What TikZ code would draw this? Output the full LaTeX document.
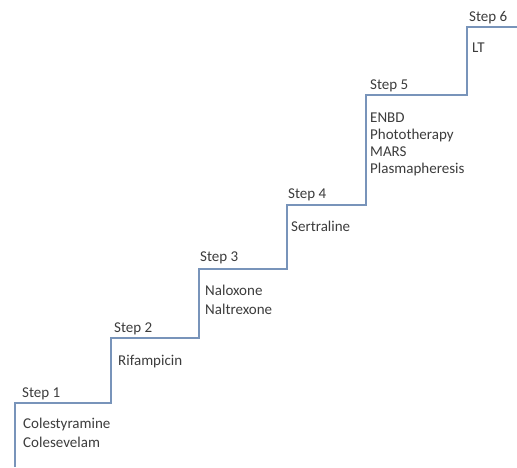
\documentclass[tikz,border=0pt]{standalone}
\usepackage{fontspec}
\setmainfont{Carlito}
\begin{document}
\begin{tikzpicture}[x=1pt,y=-1pt,
  stair/.style={draw=stairblue,line width=2pt,line join=miter},
  lbl/.style={anchor=base west,inner sep=0pt,text=txtgray,font=\fontsize{15}{18}\selectfont}]
\definecolor{stairblue}{HTML}{7894BA}
\definecolor{txtgray}{HTML}{3C3C3C}
\useasboundingbox (0,0) rectangle (517,467);
\draw[stair] (15,467) -- (15,403) -- (111,403) -- (111,338) -- (199,338) -- (199,269)
  -- (286.5,269) -- (286.5,205) -- (366,205) -- (366,94.5) -- (466.5,94.5) -- (466.5,27) -- (517,27);
\node[lbl] (s1) at (22,397.5) {Step 1};
\node[lbl] (d1a) at (23,428) {Colestyramine};
\node[lbl] (d1b) at (23,447) {Colesevelam};
\node[lbl] (s2) at (114,332.5) {Step 2};
\node[lbl] (d2) at (118,365) {Rifampicin};
\node[lbl] (s3) at (200,261) {Step 3};
\node[lbl] (d3a) at (205,295) {Naloxone};
\node[lbl] (d3b) at (205,314) {Naltrexone};
\node[lbl] (s4) at (288,198) {Step 4};
\node[lbl] (d4) at (291,231) {Sertraline};
\node[lbl] (s5) at (370,89) {Step 5};
\node[lbl] (d5a) at (370,122) {ENBD};
\node[lbl] (d5b) at (370,139) {Phototherapy};
\node[lbl] (d5c) at (370,156) {MARS};
\node[lbl] (d5d) at (370,173) {Plasmapheresis};
\node[lbl] (s6) at (469,21) {Step 6};
\node[lbl] (d6) at (472,52) {LT};
\end{tikzpicture}
\end{document}
